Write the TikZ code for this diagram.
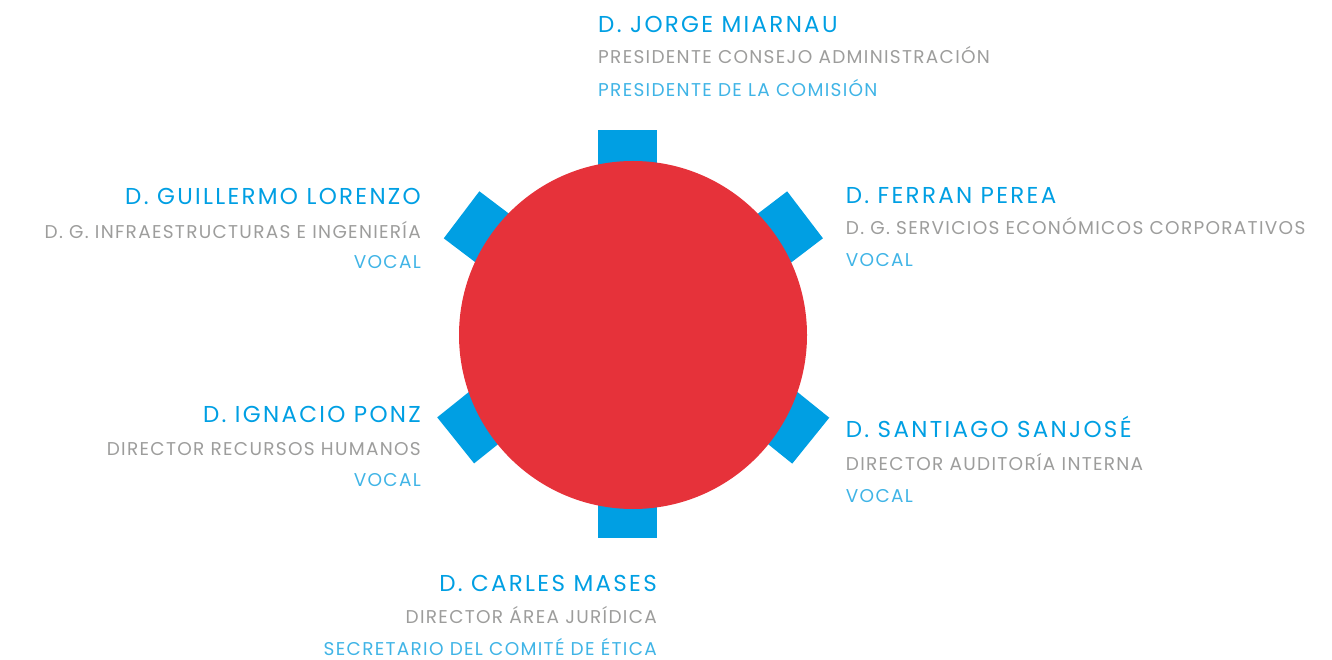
\documentclass[tikz,border=0pt]{standalone}
\usepackage{fontspec}
\setmainfont{Poppins}
\newfontfamily\letranombre[LetterSpace=10]{Poppins}
\newfontfamily\letracargo[LetterSpace=7]{Poppins}
\usetikzlibrary{positioning}
\definecolor{azul}{RGB}{0,159,227}
\definecolor{celeste}{RGB}{64,180,230}
\definecolor{gris}{RGB}{157,157,156}
\definecolor{rojo}{RGB}{230,50,58}

\begin{document}
\begin{tikzpicture}[x=1pt, y=1pt,
	silla/.style={rectangle, fill=azul, minimum width=70, minimum height=59, inner sep=0, anchor=east},
	mesa/.style={circle, fill=rojo, minimum size=348, inner sep=0},
	nombre/.style={text=azul, font=\letranombre\fontsize{23}{23}\selectfont, inner sep=0},
	cargo/.style={text=gris, font=\letracargo\fontsize{18.5}{18.5}\selectfont, inner sep=0},
	puesto/.style={text=celeste, font=\letracargo\fontsize{18.5}{18.5}\selectfont, inner sep=0}]
	\useasboundingbox (0,0) rectangle (1332,659);
	% sillas
	\node [silla, rotate=90] (s_arriba) at (627.5,529) {};
	\node [silla, rotate=-90] (s_abajo) at (627.5,121.3) {};
	\node [silla, rotate=37.3] (s_ard) at (805.2,444.3) {};
	\node [silla, rotate=142.9] (s_ari) at (461.4,444.3) {};
	\node [silla, rotate=-38.9] (s_abd) at (810.9,218.2) {};
	\node [silla, rotate=-141.3] (s_abi) at (455.5,218.5) {};
	% mesa
	\node [mesa] (mesa) at (633,324) {};
	% arriba
	\node [nombre, anchor=base west] (n1) at (598,626.7) {D. JORGE MIARNAU};
	\node [cargo, anchor=base west] (c1) at ([yshift=-31.7]n1.base west) {PRESIDENTE CONSEJO ADMINISTRACIÓN};
	\node [puesto, anchor=base west] (p1) at ([yshift=-32.7]c1.base west) {PRESIDENTE DE LA COMISIÓN};
	% izquierda arriba
	\node [nombre, anchor=base east] (n2) at (421,454) {D. GUILLERMO LORENZO};
	\node [cargo, anchor=base east] (c2) at ([yshift=-33.3]n2.base east) {D. G. INFRAESTRUCTURAS E INGENIERÍA};
	\node [puesto, anchor=base east] (p2) at ([yshift=-30.7]c2.base east) {VOCAL};
	% derecha arriba
	\node [nombre, anchor=base west] (n3) at (845.7,455.7) {D. FERRAN PEREA};
	\node [cargo, anchor=base west] (c3) at ([yshift=-31.7]n3.base west) {D. G. SERVICIOS ECONÓMICOS CORPORATIVOS};
	\node [puesto, anchor=base west] (p3) at ([yshift=-31.7]c3.base west) {VOCAL};
	% izquierda abajo
	\node [nombre, anchor=base east] (n4) at (421,236.7) {D. IGNACIO PONZ};
	\node [cargo, anchor=base east] (c4) at ([yshift=-32.7]n4.base east) {DIRECTOR RECURSOS HUMANOS};
	\node [puesto, anchor=base east] (p4) at ([yshift=-31.7]c4.base east) {VOCAL};
	% derecha abajo
	\node [nombre, anchor=base west] (n5) at (845.7,221.7) {D. SANTIAGO SANJOSÉ};
	\node [cargo, anchor=base west] (c5) at ([yshift=-33.4]n5.base west) {DIRECTOR AUDITORÍA INTERNA};
	\node [puesto, anchor=base west] (p5) at ([yshift=-31.6]c5.base west) {VOCAL};
	% abajo
	\node [nombre, anchor=base east] (n6) at (657,67.3) {D. CARLES MASES};
	\node [cargo, anchor=base east] (c6) at ([yshift=-31.6]n6.base east) {DIRECTOR ÁREA JURÍDICA};
	\node [puesto, anchor=base east] (p6) at ([yshift=-31.7]c6.base east) {SECRETARIO DEL COMITÉ DE ÉTICA};
\end{tikzpicture}
\end{document}
